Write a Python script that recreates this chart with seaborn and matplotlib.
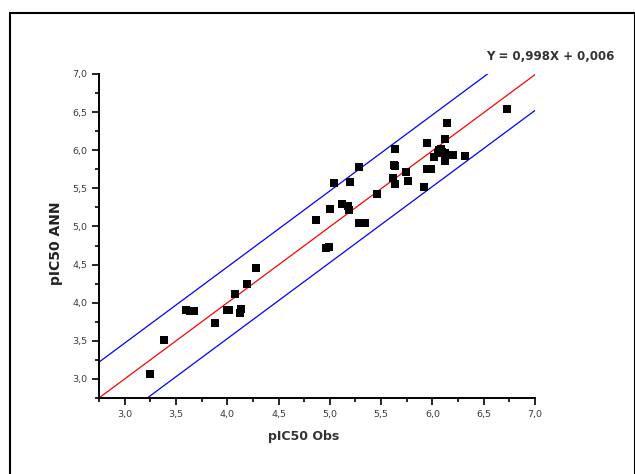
import numpy as np
import pandas as pd
import matplotlib
matplotlib.use("Agg")
import matplotlib.pyplot as plt
import matplotlib.patches as patches
from matplotlib.ticker import MultipleLocator, FuncFormatter
import seaborn as sns

pic50_obs = [3.25, 3.38, 3.60, 3.64, 3.68, 3.88, 4.00, 4.02, 4.08, 4.13, 4.12,
             4.19, 4.28, 4.87, 4.96, 4.99, 5.00, 5.04, 5.12, 5.18, 5.19, 5.20,
             5.28, 5.28, 5.34, 5.46, 5.64, 5.63, 5.64, 5.62, 5.64, 5.74, 5.76,
             5.92, 5.95, 5.95, 5.99, 6.02, 6.05, 6.06, 6.08, 6.09, 6.12, 6.12,
             6.12, 6.14, 6.20, 6.32, 6.73]
pic50_ann = [3.06, 3.51, 3.90, 3.89, 3.89, 3.73, 3.91, 3.90, 4.11, 3.92, 3.86,
             4.25, 4.46, 5.08, 4.72, 4.73, 5.23, 5.57, 5.30, 5.27, 5.22, 5.58,
             5.78, 5.05, 5.05, 5.42, 6.01, 5.80, 5.79, 5.63, 5.56, 5.71, 5.60,
             5.52, 6.09, 5.76, 5.76, 5.91, 5.97, 6.00, 6.01, 5.98, 5.96, 5.86,
             6.15, 6.36, 5.94, 5.93, 6.54]

# fit line and prediction band
slope = 0.998
intercept = 0.006
band = 0.47
x_range = [2.75, 7.0]

df = pd.DataFrame({"obs": pic50_obs, "ann": pic50_ann})
xs = np.array(x_range)
lines = pd.DataFrame({
    "x": np.concatenate([xs, xs, xs]),
    "y": np.concatenate([slope * xs + intercept,
                         slope * xs + intercept + band,
                         slope * xs + intercept - band]),
    "kind": ["fit"] * 2 + ["upper"] * 2 + ["lower"] * 2,
})

sns.set_style("ticks")
plt.rcParams['font.family'] = ['DejaVu Sans']

fig = plt.figure(figsize=(6.35, 4.74), dpi=100)
ax = fig.add_axes([99 / 635, 1 - 398 / 474, (535 - 99) / 635, (398 - 74) / 474])

sns.lineplot(data=lines, x="x", y="y", hue="kind",
             palette={"fit": "#ff0000", "upper": "#0000ff", "lower": "#0000ff"},
             linewidth=0.9, legend=False, ax=ax, estimator=None, sort=False)
sns.scatterplot(data=df, x="obs", y="ann", marker="s", s=38, color="black",
                edgecolor="black", linewidth=0, ax=ax, zorder=3)

ax.set_xlim(2.75, 7.0)
ax.set_ylim(2.75, 7.0)
ax.xaxis.set_minor_locator(MultipleLocator(0.25))
ax.yaxis.set_minor_locator(MultipleLocator(0.25))
comma = FuncFormatter(lambda v, p: f"{v:.1f}".replace(".", ","))
ax.set_xticks(np.arange(3.0, 7.01, 0.5))
ax.set_yticks(np.arange(3.0, 7.01, 0.5))
ax.xaxis.set_major_formatter(comma)
ax.yaxis.set_major_formatter(comma)

ax.tick_params(axis="both", which="major", direction="out", length=5, width=1.2,
               labelsize=6.8, labelcolor="#3a3a3a", color="black")
ax.tick_params(axis="both", which="minor", direction="out", length=3, width=1.2,
               color="black")
for s in ["top", "right"]:
    ax.spines[s].set_visible(False)
for s in ["left", "bottom"]:
    ax.spines[s].set_linewidth(1.4)
    ax.spines[s].set_color("black")

ax.set_xlabel("pIC50 Obs", fontsize=9, fontweight="bold", color="#333333")
ax.set_ylabel("pIC50 ANN", fontsize=10, fontweight="bold", color="#222222")
ax.xaxis.set_label_coords(0.47, -0.098)
ax.yaxis.set_label_coords(-0.082, 0.478)

fig.text(615 / 635, 1 - 56 / 474, "Y = 0,998X + 0,006", ha="right", va="center",
         fontsize=8.5, fontweight="bold", color="#333333")

# outer frame
fig.patches.append(patches.Rectangle((10 / 635, -0.02), 0.985, 1 - 13 / 474 + 0.02,
                                     transform=fig.transFigure, fill=False,
                                     edgecolor="black", linewidth=1.5))

fig.savefig("out.png", dpi=100)
